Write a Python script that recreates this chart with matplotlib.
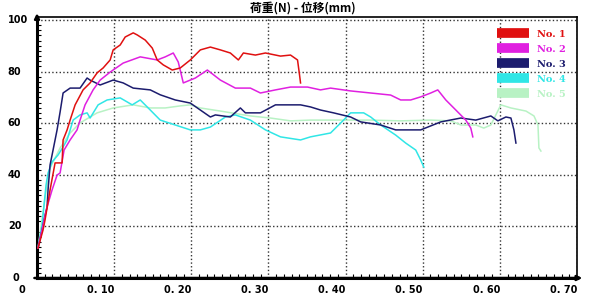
import numpy as np
import matplotlib.pyplot as plt
from matplotlib.lines import Line2D

# Curvas carga-desplazamiento
x1 = [0.0013, 0.0078, 0.0104, 0.0169, 0.0234, 0.0325, 0.0338, 0.039, 0.0429, 0.0494, 0.0597, 0.0688,
      0.0779, 0.0857, 0.0948, 0.0987, 0.1078, 0.1143, 0.1247, 0.1299, 0.1403, 0.1494, 0.1558, 0.1636,
      0.1753, 0.1857, 0.1987, 0.2117, 0.2247, 0.2377, 0.2506, 0.261, 0.2675, 0.2831, 0.2961, 0.3156,
      0.3286, 0.3377, 0.3403, 0.3416]
y1 = [11.6, 18.6, 22.5, 34.1, 44.6, 44.6, 53.5, 57.4, 61.2, 67.1, 72.9, 75.6,
      79.5, 81.4, 84.5, 88.4, 90.3, 93.4, 95.0, 94.2, 92.2, 89.1, 84.5, 82.6,
      80.6, 81.4, 84.5, 88.4, 89.5, 88.4, 87.2, 84.5, 87.2, 86.4, 87.2, 86.0,
      86.4, 84.5, 78.7, 75.6]

x2 = [0.0013, 0.0065, 0.013, 0.0195, 0.026, 0.0299, 0.0351, 0.0429, 0.0519, 0.0558, 0.0623, 0.0727,
      0.0818, 0.0948, 0.1117, 0.1338, 0.1558, 0.1662, 0.1766, 0.1831, 0.1896, 0.2052, 0.2208, 0.2377,
      0.2571, 0.2766, 0.2896, 0.3091, 0.3286, 0.3506, 0.3675, 0.3805, 0.4065, 0.4195, 0.4584, 0.4714,
      0.4844, 0.4974, 0.5104, 0.5195, 0.5299, 0.5429, 0.5558, 0.5623, 0.5649]
y2 = [11.6, 18.6, 27.5, 34.1, 39.9, 40.7, 49.6, 53.5, 57.4, 61.2, 67.1, 72.9,
      76.7, 79.8, 83.3, 85.7, 84.5, 85.7, 87.2, 83.7, 75.6, 77.5, 80.6, 76.7,
      73.6, 73.6, 71.7, 72.9, 74.0, 74.0, 72.9, 73.6, 72.5, 72.1, 70.9, 69.0,
      69.0, 70.2, 71.7, 72.9, 69.0, 65.1, 61.2, 58.1, 54.7]

x3 = [0.0013, 0.0065, 0.0104, 0.013, 0.0143, 0.0169, 0.0208, 0.026, 0.0299, 0.0338, 0.0429, 0.0558,
      0.0649, 0.0688, 0.0818, 0.0987, 0.1117, 0.1247, 0.1468, 0.1597, 0.1792, 0.1987, 0.2117, 0.2247,
      0.2312, 0.2506, 0.2636, 0.2701, 0.2896, 0.3091, 0.3416, 0.3545, 0.3675, 0.3844, 0.4065, 0.4195,
      0.4455, 0.4649, 0.4974, 0.5234, 0.5494, 0.5688, 0.5883, 0.5974, 0.6078, 0.6143, 0.6182, 0.6208]
y3 = [11.6, 18.6, 24.4, 27.5, 34.1, 43.8, 49.6, 57.4, 64.3, 71.7, 73.6, 73.6,
      77.5, 76.7, 74.8, 76.7, 75.6, 73.6, 72.9, 71.0, 69.0, 67.8, 65.1, 62.4,
      63.2, 62.4, 65.9, 64.0, 64.0, 67.1, 67.1, 66.3, 65.1, 64.0, 62.4, 60.5,
      59.3, 57.4, 57.4, 60.5, 62.0, 61.2, 62.8, 60.9, 62.4, 62.0, 57.4, 52.3]

x4 = [0.0013, 0.0065, 0.0117, 0.0143, 0.0195, 0.0273, 0.0338, 0.039, 0.0468, 0.0558, 0.0649, 0.0688,
      0.0792, 0.0909, 0.1078, 0.1234, 0.1338, 0.1468, 0.1597, 0.1792, 0.1987, 0.2117, 0.2247, 0.2442,
      0.2571, 0.2766, 0.2961, 0.3156, 0.3416, 0.3545, 0.3805, 0.3974, 0.4065, 0.4234, 0.4325, 0.4455,
      0.4649, 0.4779, 0.4909, 0.4974, 0.5013]
y4 = [11.6, 20.5, 36.0, 40.7, 45.0, 47.7, 50.8, 53.5, 61.2, 63.2, 64.0, 62.0,
      67.1, 69.0, 69.8, 67.1, 69.0, 65.1, 61.2, 59.3, 57.4, 57.4, 58.5, 62.4,
      63.2, 61.2, 57.4, 54.7, 53.5, 54.7, 56.2, 61.2, 64.0, 64.0, 62.4, 59.3,
      55.4, 52.3, 49.6, 45.7, 43.0]

x5 = [0.0013, 0.0104, 0.0169, 0.0299, 0.0429, 0.0558, 0.0779, 0.0987, 0.1247, 0.1468, 0.1662, 0.1857,
      0.1987, 0.2117, 0.2377, 0.2766, 0.3026, 0.3286, 0.3545, 0.3935, 0.4325, 0.4714, 0.5104, 0.5364,
      0.5494, 0.5688, 0.5792, 0.5883, 0.5948, 0.6013, 0.6143, 0.6338, 0.6442, 0.6494, 0.6506, 0.6532]
y5 = [11.6, 31.0, 42.6, 50.4, 56.2, 60.1, 64.0, 65.9, 67.1, 65.9, 65.9, 66.7,
      67.1, 65.9, 64.7, 62.8, 62.0, 60.9, 61.2, 61.2, 61.2, 60.9, 61.2, 60.9,
      59.3, 59.3, 58.1, 59.3, 63.2, 67.1, 65.9, 64.7, 62.8, 59.3, 50.4, 49.2]

nombres = ['No. 1', 'No. 2', 'No. 3', 'No. 4', 'No. 5']
colores = ['#e01010', '#e020e0', '#1c1c6e', '#30e6e6', '#b8f2c4']
xticks = [0, 0.1, 0.2, 0.3, 0.4, 0.5, 0.6, 0.7]
xlabels = ['0', '0. 10', '0. 20', '0. 30', '0. 40', '0. 50', '0. 60', '0. 70']
yticks = [0, 20, 40, 60, 80, 100]
ylabels = ['0', '20', '40', '60', '80', '100']

fig = plt.figure(figsize=(6, 3.04), dpi=100)
ax = fig.add_axes([0.0617, 0.0855, 0.9, 0.859])

series = [(x1, y1), (x2, y2), (x3, y3), (x4, y4), (x5, y5)]
# la No.5 va debajo
orden = [4, 3, 2, 1, 0]
for i in orden:
    ax.plot(series[i][0], series[i][1], color=colores[i], lw=1.1, zorder=3 + (4 - i))

ax.set_xlim(0, 0.70)
ax.set_ylim(0, 101.2)
ax.set_xticks(xticks)
ax.set_yticks(yticks)
ax.set_xticklabels([])
ax.set_yticklabels([])
ax.set_xticks(np.arange(0, 0.7, 0.01), minor=True)
ax.set_yticks(np.arange(0, 101, 2), minor=True)
ax.tick_params(axis='both', which='both', direction='in', colors='black')
ax.tick_params(axis='both', which='minor', length=3, width=0.8)
ax.tick_params(axis='both', which='major', length=0)

# etiquetas: las del eje x alineadas a la derecha de cada marca, las del y a la izquierda
tx = ax.get_xaxis_transform()
for v, s in zip(xticks[1:], xlabels[1:]):
    ax.text(v, -0.046, s, transform=tx, ha='right', va='center', fontsize=7, fontweight='bold')
ax.text(-0.028, -0.046, xlabels[0], transform=ax.transAxes, ha='center', va='center',
        fontsize=7, fontweight='bold')
ty = ax.get_yaxis_transform()
for v, s in zip(yticks, ylabels):
    xpos = -0.046 if s == '0' else -0.054
    ax.text(xpos, v, s, transform=ty, ha='left', va='center', fontsize=7, fontweight='bold')

ax.grid(True, which='major', color='#333333', linestyle=':', linewidth=1.0)

ax.spines['left'].set_linewidth(2.2)
ax.spines['bottom'].set_linewidth(2.2)
ax.spines['top'].set_linewidth(1.2)
ax.spines['right'].set_linewidth(1.2)

# flechas de los ejes
ax.annotate('', xy=(1.015, 0), xytext=(-0.01, 0), xycoords='axes fraction',
            arrowprops=dict(arrowstyle='-|>', lw=1.8, color='black', mutation_scale=7),
            annotation_clip=False)
ax.annotate('', xy=(0, 1.025), xytext=(0, 0.98), xycoords='axes fraction',
            arrowprops=dict(arrowstyle='-|>', lw=1.8, color='black', mutation_scale=7),
            annotation_clip=False)

handles = [Line2D([0], [0], color=c, lw=7, solid_capstyle='butt') for c in colores]
leg = ax.legend(handles, nombres, loc='upper left', bbox_to_anchor=(0.836, 0.985),
                frameon=False, handlelength=3.3, handletextpad=0.8, labelspacing=0.62,
                prop={'family': 'DejaVu Serif', 'weight': 'bold', 'size': 7})
for t, c in zip(leg.get_texts(), colores):
    t.set_color(c)

fig.text(0.505, 0.972, '荷重(N) - 位移(mm)', ha='center', va='center', fontsize=8.5,
         fontweight='bold', family=['Noto Sans CJK SC', 'DejaVu Sans'])

fig.savefig('out.png', dpi=100)
